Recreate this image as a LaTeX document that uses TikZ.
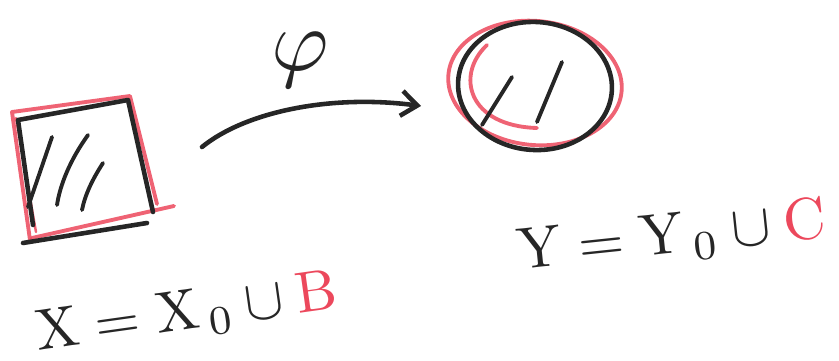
\documentclass[tikz,border=0pt]{standalone}
\usepackage{amsmath}
\usetikzlibrary{arrows.meta}
\definecolor{penred}{RGB}{236,72,92}
\definecolor{penblack}{RGB}{38,38,38}

\begin{document}
\begin{tikzpicture}[x=0.02cm,y=-0.02cm,line cap=round,line join=round,
    ink/.style={penblack,line width=2.6pt},
    redink/.style={penred,line width=2.2pt,opacity=0.85},
    hatch/.style={penblack,line width=2.2pt},
    >={Straight Barb[length=3.2mm,width=5mm]}]
  \useasboundingbox (0,0) rectangle (839,361);
  % carre X : contour rouge puis trait noir
  \draw[redink] (30,240) -- (12,112) -- (130,96) -- (157,204);
  \draw[redink] (32,238) -- (174,206);
  \draw[redink,line width=1.4pt] (16,118) -- (36,232);
  \draw[ink] (33,225) -- (18,120) -- (128,100) -- (153,212);
  \draw[ink] (23,243) -- (147,223);
  \draw[hatch] (52,137) -- (28,207);
  \draw[hatch] (88,135) .. controls (70,160) and (60,185) .. (57,205);
  \draw[hatch] (103,163) .. controls (92,180) and (85,195) .. (82,210);
  % disque Y
  \draw[redink] (535,83) ellipse[x radius=87,y radius=62,rotate=-6];
  \draw[redink] (487,45) .. controls (455,75) and (468,126) .. (537,128);
  \draw[ink] (535,86) ellipse[x radius=77,y radius=64,rotate=-4];
  \draw[hatch] (512,77) -- (482,125);
  \draw[hatch] (562,62) -- (537,122);
  % fleche phi
  \coordinate (phiStart) at (202,147); \coordinate (phiEnd) at (421,106);
  \draw[ink,->] (phiStart) .. controls (245,112) and (330,94) .. (phiEnd);
  \node[penblack,scale=5] (phi) at (300,60) {$\varphi$};
  % egalites
  \node[penblack,scale=3.3,rotate=8] (eqX) at (187,314)
    {$\mathrm{X} = \mathrm{X}_{\,0} \cup \textcolor{penred}{\mathrm{B}}$};
  \node[penblack,scale=3.35,rotate=6] (eqY) at (672,238)
    {$\mathrm{Y} = \mathrm{Y}_{\,0} \cup \textcolor{penred}{\mathrm{C}}$};
\end{tikzpicture}
\end{document}
